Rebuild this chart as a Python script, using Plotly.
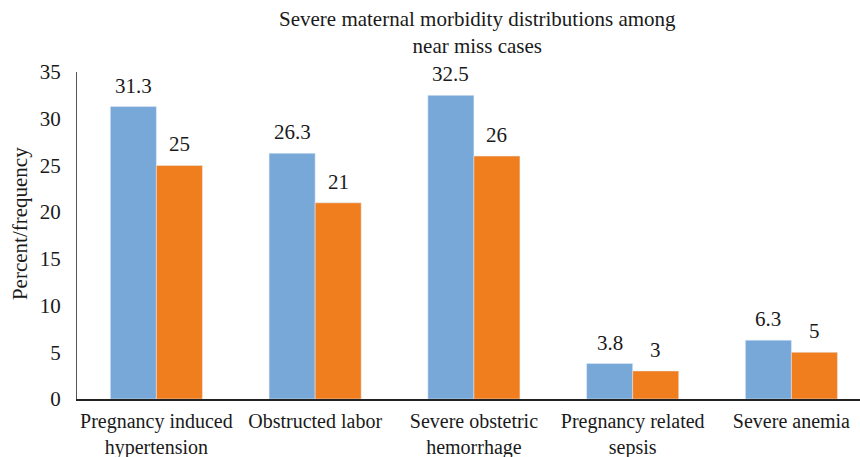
import plotly.graph_objects as go

categories = ["Pregnancy induced<br>hypertension", "Obstructed labor", "Severe obstetric<br>hemorrhage",
              "Pregnancy related<br>sepsis", "Severe anemia"]
percent = [31.3, 26.3, 32.5, 3.8, 6.3]
frequency = [25, 21, 26, 3, 5]
y_ticks = [0, 5, 10, 15, 20, 25, 30, 35]

FONT = "Liberation Serif, Times New Roman, serif"
FS = 21
BLUE = "#78a8d8"
ORANGE = "#f07e1f"
TXT = "#1a1a1a"

fig = go.Figure()
fig.add_trace(go.Bar(x=list(range(len(categories))), y=percent, marker_color=BLUE, name="Percent",
                     offsetgroup="a"))
fig.add_trace(go.Bar(x=list(range(len(categories))), y=frequency, marker_color=ORANGE, name="Frequency",
                     offsetgroup="b"))

annotations = []
for i, (p, f) in enumerate(zip(percent, frequency)):
    for val, off in ((p, -0.145), (f, 0.145)):
        annotations.append(dict(x=i + off, y=val, xref="x", yref="y", text=f"{val:g}", showarrow=False,
                                yanchor="bottom", yshift=7, font=dict(family=FONT, size=FS, color=TXT)))
annotations.append(dict(x=0.512, y=1.0, xref="paper", yref="paper", yanchor="bottom", yshift=12,
                        text="Severe maternal morbidity distributions among<br>near miss cases",
                        showarrow=False, font=dict(family=FONT, size=FS, color=TXT)))
annotations.append(dict(x=-0.0728, y=0.538, xref="paper", yref="paper", xanchor="center", yanchor="middle",
                        text="Percent/frequency", textangle=-90, showarrow=False,
                        font=dict(family=FONT, size=FS, color=TXT)))

fig.update_layout(
    width=860, height=457,
    margin=dict(l=77, r=0, t=72, b=58),
    paper_bgcolor="white", plot_bgcolor="white",
    showlegend=False,
    barmode="group", bargap=0.42, bargroupgap=0,
    font=dict(family=FONT, size=FS, color=TXT),
    annotations=annotations,
    xaxis=dict(tickmode="array", tickvals=list(range(len(categories))), ticktext=categories,
               range=[-0.5, 4.432], showline=True, linecolor="#222222", linewidth=1.6,
               showgrid=False, ticks="", tickfont=dict(family=FONT, size=20), automargin=False,
               ticklabelstandoff=3),
    yaxis=dict(range=[0, 35], tickvals=y_ticks, showline=True, linecolor="#555555", linewidth=1,
               showgrid=False, zeroline=False, ticks="", tickfont=dict(family=FONT, size=FS),
               automargin=False, ticklabelstandoff=11),
)

fig.write_html("out.html", config={"displayModeBar": False},
               post_script="document.body.style.margin='0';document.documentElement.style.overflow='hidden';")
